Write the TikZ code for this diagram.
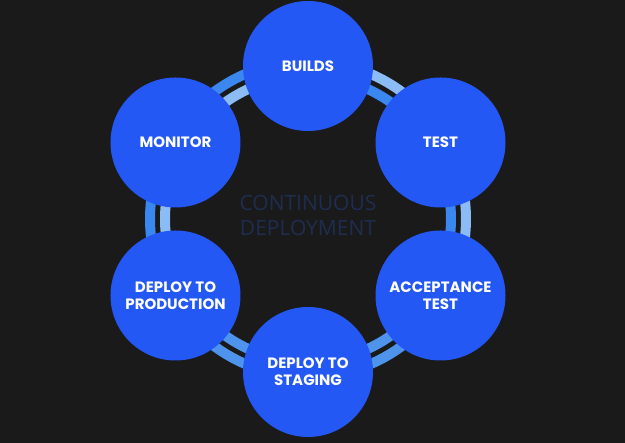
\documentclass[tikz,border=0pt]{standalone}
\usepackage{fontspec}
\usetikzlibrary{calc}
\setmainfont{Poppins}
\newfontfamily\lightfont{Open Sans}
\definecolor{bg}{RGB}{26,26,26}
\definecolor{stepblue}{RGB}{36,88,245}
\definecolor{ringmed}{RGB}{58,135,240}
\definecolor{ringlight}{RGB}{140,188,245}
\definecolor{ringmid}{RGB}{78,148,236}
\definecolor{centertext}{RGB}{30,45,80}
\tikzset{
  stepcircle/.style={circle, fill=stepblue, minimum size=130pt, inner sep=0pt,
    text=white, font=\bfseries\fontsize{15}{17}\selectfont, align=center},
  ringband/.style={line width=10pt},
}
\begin{document}
\begin{tikzpicture}[x=1pt,y=1pt]
\useasboundingbox (0,0) rectangle (625,443);
\fill[bg] (0,0) rectangle (625,443);
\coordinate (c) at (308,224);
% rings: segments centred on the gaps between circles
\foreach \g/\oc/\ic in {120/ringmed/ringlight, 60/ringlight/ringmed, 0/ringlight/ringmed,
                        -60/ringmid/ringmid, -120/ringmid/ringmid, 180/ringmed/ringlight}{
  \draw[ringband, \oc] ($(c)+({\g-30}:158)$) arc[start angle=\g-30, end angle=\g+30, radius=158];
  \draw[ringband, \ic] ($(c)+({\g-30}:143)$) arc[start angle=\g-30, end angle=\g+30, radius=143];
}
\node[text=centertext, font=\lightfont\fontsize{21}{25}\selectfont, align=center] (title) at ($(c)+(0,4)$) {CONTINUOUS\\DEPLOYMENT};
\node[stepcircle] (builds) at ($(c)+(90:153)$) {BUILDS};
\node[stepcircle] (test) at ($(c)+(30:153)$) {TEST};
\node[stepcircle] (accept) at ($(c)+(-30:153)$) {ACCEPTANCE\\TEST};
\node[stepcircle] (staging) at ($(c)+(-90:153)$) {DEPLOY TO\\STAGING};
\node[stepcircle] (prod) at ($(c)+(-150:153)$) {DEPLOY TO\\PRODUCTION};
\node[stepcircle] (monitor) at ($(c)+(150:153)$) {MONITOR};
\end{tikzpicture}
\end{document}
